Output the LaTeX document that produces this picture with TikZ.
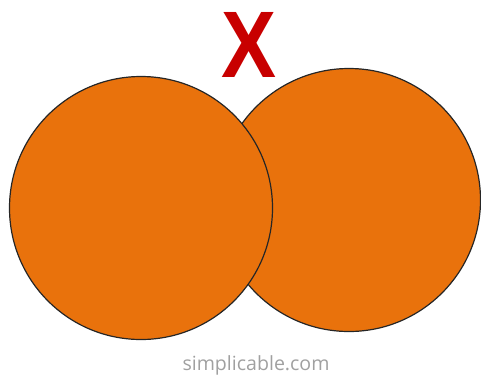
\documentclass[tikz,border=0pt]{standalone}
\usepackage{fontspec}
\setmainfont{Liberation Sans}
\newfontfamily\opensans{Open Sans}
\definecolor{ballorange}{RGB}{233,114,12}
\definecolor{xred}{RGB}{200,0,0}
\definecolor{credit}{RGB}{160,160,160}
\begin{document}
\begin{tikzpicture}[x=1pt,y=-1pt,
  ball/.style={circle,draw=black!85,line width=1.2pt,fill=ballorange,inner sep=0pt,minimum size=263pt}]
\useasboundingbox (0,0) rectangle (481,376);
\node[ball] (right) at (349,200) {};
\node[ball] (left) at (141,208) {};
\node[text=xred,inner sep=0pt,anchor=center] (mark) at (249.5,44.5)
  {\resizebox{55pt}{65pt}{\bfseries X}};
\node[text=credit,inner sep=0pt,anchor=base] (credit) at (256,370.5)
  {\resizebox{147pt}{!}{\opensans simplicable.com}};
\end{tikzpicture}
\end{document}
